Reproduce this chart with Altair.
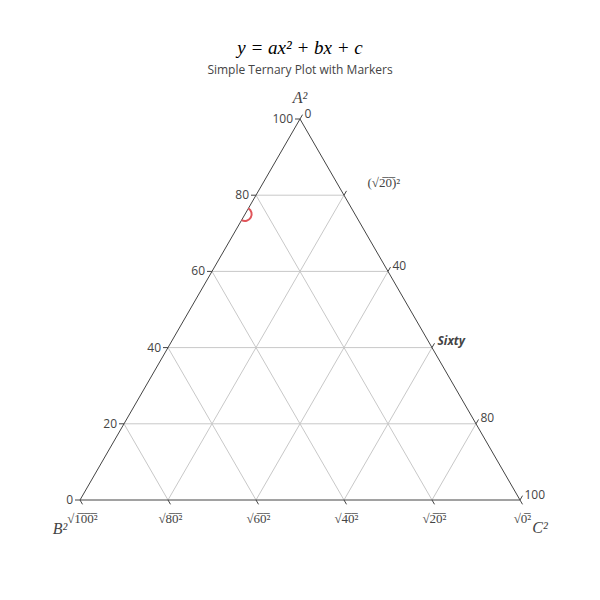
import altair as alt
import pandas as pd

# ---- data ----
a_ticks = [0, 20, 40, 60, 80, 100]
a_labels = ["0", "20", "40", "60", "80", "100"]
b_ticks = [100, 80, 60, 40, 20, 0]
b_labels = ["√1̅0̅0̅²", "√8̅0̅²", "√6̅0̅²", "√4̅0̅²", "√2̅0̅²", "√0̅²"]
c_ticks = [0, 20, 40, 60, 80, 100]
c_labels = ["0", "(√2̅0̅)²", "40", "Sixty", "80", "100"]
grid_values = [20, 40, 60, 80]
point_a = [75]
point_b = [25]
point_c = [0]
axis_titles = ["A²", "B²", "C²"]

W, H = 440, 381
PX, PY = 1.0 / W, 1.0 / H
TL = 5  # tick length in px
EDGE = "#444444"
GRID = "#c8c8c8"


def seg(axis, v):
    v = v / 100.0
    if axis == "A":
        return v / 2, v, 1 - v / 2, v
    if axis == "B":
        return 1 - v, 0.0, (1 - v) / 2, 1 - v
    return v, 0.0, (1 + v) / 2, 1 - v


grid_rows = []
for ax in "ABC":
    for g in grid_values:
        x1, y1, x2, y2 = seg(ax, g)
        grid_rows.append(dict(x=x1, y=y1, x2=x2, y2=y2))
grid_df = pd.DataFrame(grid_rows)

edge_rows = []
for ax in "ABC":
    x1, y1, x2, y2 = seg(ax, 0)
    edge_rows.append(dict(x=x1, y=y1, x2=x2, y2=y2))
edge_df = pd.DataFrame(edge_rows)

# ticks
tick_rows = []
a_lab_rows, b_lab_rows, c_lab_rows = [], [], []
for t, lab in zip(a_ticks, a_labels):
    v = t / 100.0
    x, y = v / 2, v
    xe, ye = x - TL * PX, y
    tick_rows.append(dict(x=x, y=y, x2=xe, y2=ye))
    a_lab_rows.append(dict(x=xe, y=ye, label=lab))
for t, lab in zip(b_ticks, b_labels):
    v = t / 100.0
    x, y = 1 - v, 0.0
    xe, ye = x + 0.5 * TL * PX, y - 0.866 * TL * PY
    tick_rows.append(dict(x=x, y=y, x2=xe, y2=ye))
    b_lab_rows.append(dict(x=xe, y=ye, label=lab))
for t, lab in zip(c_ticks, c_labels):
    v = t / 100.0
    x, y = (1 + v) / 2, 1 - v
    xe, ye = x + 0.5 * TL * PX, y + 0.866 * TL * PY
    tick_rows.append(dict(x=x, y=y, x2=xe, y2=ye))
    c_lab_rows.append(dict(x=xe, y=ye, label=lab, tick=t))
tick_df = pd.DataFrame(tick_rows)
a_lab_df = pd.DataFrame(a_lab_rows)
b_lab_df = pd.DataFrame(b_lab_rows)
c_lab_df = pd.DataFrame(c_lab_rows)
c_plain = c_lab_df[c_lab_df["tick"].isin([0, 40, 80, 100])]
c_math = c_lab_df[c_lab_df["tick"] == 20]
c_bold = c_lab_df[c_lab_df["tick"] == 60]

pt_df = pd.DataFrame(dict(A=point_a, B=point_b, C=point_c))

xs = alt.Scale(domain=[0, 1], nice=False, zero=False)
ys = alt.Scale(domain=[0, 1], nice=False, zero=False)
X = alt.X("x:Q", scale=xs, axis=None)
Y = alt.Y("y:Q", scale=ys, axis=None)

grid = alt.Chart(grid_df).mark_rule(color=GRID, strokeWidth=1).encode(
    x=X, y=Y, x2="x2:Q", y2="y2:Q")
edges = alt.Chart(edge_df).mark_rule(color=EDGE, strokeWidth=1).encode(
    x=X, y=Y, x2="x2:Q", y2="y2:Q")
ticks = alt.Chart(tick_df).mark_rule(color=EDGE, strokeWidth=1).encode(
    x=X, y=Y, x2="x2:Q", y2="y2:Q")

a_text = alt.Chart(a_lab_df).mark_text(
    align="right", baseline="middle", dx=-2, font="Open Sans", fontSize=12,
    color="#444").encode(x=X, y=Y, text="label:N")
b_text = alt.Chart(b_lab_df).mark_text(
    align="center", baseline="middle", dy=15, font="Liberation Serif",
    fontSize=13, color="#444").encode(x=X, y=Y, text="label:N")
c_text = alt.Chart(c_plain).mark_text(
    align="left", baseline="middle", dx=2, dy=-1, font="Open Sans", fontSize=12,
    color="#444").encode(x=X, y=Y, text="label:N")
c_text_math = alt.Chart(c_math).mark_text(
    align="left", baseline="middle", dx=21, dy=-8, font="Liberation Serif",
    fontSize=13, color="#444").encode(x=X, y=Y, text="label:N")
c_text_bold = alt.Chart(c_bold).mark_text(
    align="left", baseline="middle", dx=3, dy=-2, font="Open Sans", fontSize=12,
    fontWeight="bold", fontStyle="italic", color="#444").encode(
    x=X, y=Y, text="label:N")

title_a = alt.Chart(pd.DataFrame(dict(x=[0.5], y=[1.0], t=[axis_titles[0]]))).mark_text(
    align="center", baseline="middle", dy=-21, font="Liberation Serif",
    fontStyle="italic", fontSize=16, color="#444").encode(x=X, y=Y, text="t:N")
title_b = alt.Chart(pd.DataFrame(dict(x=[0.0], y=[0.0], t=[axis_titles[1]]))).mark_text(
    align="center", baseline="middle", dx=-20, dy=29, font="Liberation Serif",
    fontStyle="italic", fontSize=16, color="#444").encode(x=X, y=Y, text="t:N")
title_c = alt.Chart(pd.DataFrame(dict(x=[1.0], y=[0.0], t=[axis_titles[2]]))).mark_text(
    align="center", baseline="middle", dx=20, dy=28, font="Liberation Serif",
    fontStyle="italic", fontSize=16, color="#444").encode(x=X, y=Y, text="t:N")

half_circle = "M0.5,-0.866A1,1,0,0,1,-0.5,0.866"
marker = alt.Chart(pt_df).transform_calculate(
    x="(datum.C + datum.A / 2) / (datum.A + datum.B + datum.C)",
    y="datum.A / (datum.A + datum.B + datum.C)",
).mark_point(shape=half_circle, filled=False, size=180, strokeWidth=2,
             color="#E0555A", opacity=1).encode(x=X, y=Y)

chart = alt.layer(
    grid, edges, ticks, a_text, b_text, c_text, c_text_math, c_text_bold,
    title_a, title_b, title_c, marker
).properties(
    width=W, height=H,
    autosize=alt.AutoSizeParams(type="none"),
    padding={"left": 72, "top": 111, "right": 72, "bottom": 92},
    title=alt.TitleParams(
        text="y = ax² + bx + c",
        subtitle="Simple Ternary Plot with Markers",
        font="Liberation Serif", fontStyle="italic", fontSize=19,
        fontWeight="normal", color="#000",
        subtitleFont="Open Sans", subtitleFontSize=12, subtitleColor="#444",
        subtitlePadding=7, anchor="middle", frame="group", offset=14,
    ),
).configure_view(stroke=None)

chart.save("out.html", embed_options={"renderer": "svg", "actions": False})
